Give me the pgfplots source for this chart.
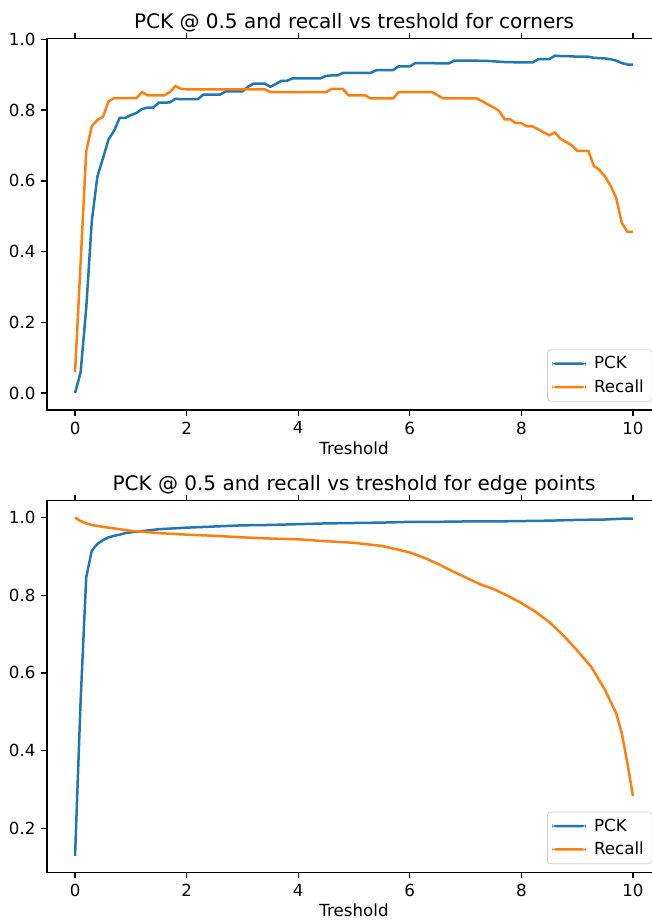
\documentclass[border=0pt]{standalone}
\usepackage{fontspec}
\setmainfont{DejaVu Sans}
\usepackage{pgfplots}
\usepackage{pgfplotstable}
\pgfplotsset{compat=1.18}
\definecolor{mblue}{HTML}{1F77B4}
\definecolor{morange}{HTML}{FF7F0E}

\pgfplotstableread{
x y
0.0 0.000
0.1 0.059
0.2 0.240
0.3 0.486
0.4 0.612
0.5 0.664
0.6 0.717
0.7 0.742
0.8 0.778
0.9 0.778
1.0 0.786
1.1 0.792
1.2 0.803
1.3 0.807
1.4 0.807
1.5 0.821
1.6 0.821
1.7 0.822
1.8 0.832
1.9 0.831
2.0 0.831
2.1 0.831
2.2 0.831
2.3 0.844
2.4 0.844
2.5 0.844
2.6 0.844
2.7 0.853
2.8 0.853
2.9 0.853
3.0 0.853
3.1 0.866
3.2 0.875
3.3 0.875
3.4 0.875
3.5 0.866
3.6 0.874
3.7 0.883
3.8 0.883
3.9 0.890
4.0 0.890
4.1 0.890
4.2 0.890
4.3 0.890
4.4 0.890
4.5 0.897
4.6 0.898
4.7 0.898
4.8 0.905
4.9 0.905
5.0 0.905
5.1 0.905
5.2 0.905
5.3 0.905
5.4 0.913
5.5 0.913
5.6 0.913
5.7 0.913
5.8 0.924
5.9 0.924
6.0 0.924
6.1 0.933
6.2 0.933
6.3 0.933
6.4 0.933
6.5 0.932
6.6 0.932
6.7 0.932
6.8 0.940
6.9 0.940
7.0 0.940
7.1 0.940
7.2 0.940
7.3 0.939
7.4 0.939
7.5 0.938
7.6 0.937
7.7 0.936
7.8 0.936
7.9 0.935
8.0 0.935
8.1 0.935
8.2 0.935
8.3 0.944
8.4 0.944
8.5 0.944
8.6 0.954
8.7 0.953
8.8 0.953
8.9 0.952
9.0 0.951
9.1 0.951
9.2 0.951
9.3 0.948
9.4 0.947
9.5 0.946
9.6 0.944
9.7 0.940
9.8 0.933
9.9 0.929
10.0 0.929
}\pckcorners

\pgfplotstableread{
x y
0.0 0.059
0.1 0.370
0.2 0.683
0.3 0.755
0.4 0.772
0.5 0.781
0.6 0.825
0.7 0.834
0.8 0.834
0.9 0.834
1.0 0.834
1.1 0.834
1.2 0.851
1.3 0.842
1.4 0.842
1.5 0.842
1.6 0.842
1.7 0.851
1.8 0.868
1.9 0.860
2.0 0.859
2.5 0.859
3.0 0.859
3.4 0.859
3.5 0.851
4.0 0.851
4.5 0.851
4.6 0.860
4.7 0.860
4.8 0.860
4.9 0.842
5.0 0.842
5.1 0.842
5.2 0.842
5.3 0.833
5.4 0.833
5.5 0.833
5.6 0.833
5.7 0.833
5.8 0.851
5.9 0.851
6.0 0.851
6.1 0.851
6.2 0.851
6.3 0.851
6.4 0.851
6.5 0.842
6.6 0.833
6.7 0.833
6.8 0.833
6.9 0.833
7.0 0.833
7.1 0.833
7.2 0.833
7.3 0.825
7.4 0.816
7.5 0.808
7.6 0.798
7.7 0.774
7.8 0.774
7.9 0.763
8.0 0.763
8.1 0.754
8.2 0.754
8.3 0.746
8.4 0.737
8.5 0.729
8.6 0.737
8.7 0.719
8.8 0.710
8.9 0.701
9.0 0.685
9.1 0.685
9.2 0.685
9.3 0.642
9.4 0.631
9.5 0.612
9.6 0.586
9.7 0.552
9.8 0.481
9.9 0.456
10.0 0.456
}\reccorners

\pgfplotstableread{
x y
0.0 0.129
0.1 0.530
0.2 0.846
0.3 0.915
0.4 0.932
0.5 0.942
0.6 0.949
0.7 0.953
0.8 0.956
0.9 0.960
1.0 0.962
1.2 0.965
1.5 0.970
2.0 0.974
2.5 0.977
3.0 0.980
3.5 0.981
4.0 0.983
4.5 0.985
5.0 0.986
5.5 0.987
6.0 0.989
6.5 0.989
7.0 0.990
7.5 0.990
8.0 0.991
8.5 0.992
9.0 0.994
9.5 0.995
9.8 0.997
10.0 0.997
}\pckedges

\pgfplotstableread{
x y
0.0 1.000
0.1 0.991
0.2 0.985
0.3 0.981
0.5 0.976
0.8 0.970
1.0 0.966
1.5 0.960
2.0 0.956
2.5 0.953
3.0 0.949
3.5 0.946
4.0 0.944
4.4 0.940
5.0 0.935
5.5 0.927
5.8 0.917
6.0 0.910
6.25 0.897
6.5 0.881
6.75 0.863
7.0 0.846
7.25 0.829
7.5 0.816
7.75 0.799
8.0 0.780
8.25 0.758
8.5 0.731
8.75 0.697
9.0 0.658
9.25 0.616
9.5 0.556
9.7 0.496
9.8 0.445
9.9 0.368
10.0 0.283
}\recedges

\pgfplotsset{mystyle/.style={
  scale only axis, width=368.2pt, height=223pt,
  xmin=-0.5, xmax=10.5,
  xtick={0,2,4,6,8,10},
  tick align=outside,
  major tick length=3.5pt,
  tick style={black, line width=0.8pt},
  axis line style={line width=0.8pt},
  ticklabel style={font=\fontsize{10}{12}\selectfont},
  /pgf/number format/assume math mode=true,
  yticklabel style={/pgf/number format/fixed, /pgf/number format/fixed zerofill, /pgf/number format/precision=1},
  xlabel={Treshold},
  xlabel style={yshift=2.5pt},
  label style={font=\fontsize{10}{12}\selectfont},
  title style={font=\fontsize{12}{14}\selectfont, yshift=-6pt},
  legend cell align=left,
  legend image code/.code={\fill[##1, draw=none] (0pt,-0.75pt) rectangle (20pt,0.75pt);},
  legend style={at={(axis description cs:1,0)}, anchor=south east, xshift=-5pt, yshift=5pt,
    draw=black!20, rounded corners=2pt, fill=white,
    font=\fontsize{10}{12}\selectfont, inner xsep=3pt, inner ysep=2pt, row sep=1pt, column sep=3pt},
}}

\begin{document}
\begin{tikzpicture}
\begin{axis}[mystyle, anchor=north west, at={(0pt,0pt)},
  ymin=-0.048, ymax=1.003, ytick={0,0.2,0.4,0.6,0.8,1.0},
  title={PCK @ 0.5 and recall vs treshold for corners}]
\addplot[mblue, line width=1.5pt] table[x=x,y=y] {\pckcorners};
\addlegendentry{PCK}
\addplot[morange, line width=1.5pt] table[x=x,y=y] {\reccorners};
\addlegendentry{Recall}
\end{axis}
\begin{axis}[mystyle, anchor=north west, at={(0pt,-277.4pt)},
  ymin=0.0865, ymax=1.0435, ytick={0.2,0.4,0.6,0.8,1.0},
  title={PCK @ 0.5 and recall vs treshold for edge points}]
\addplot[mblue, line width=1.5pt] table[x=x,y=y] {\pckedges};
\addlegendentry{PCK}
\addplot[morange, line width=1.5pt] table[x=x,y=y] {\recedges};
\addlegendentry{Recall}
\end{axis}
\pgfresetboundingbox
\useasboundingbox (-28.3pt,23.0pt) rectangle (362.9pt,-529.0pt);
\end{tikzpicture}
\end{document}
